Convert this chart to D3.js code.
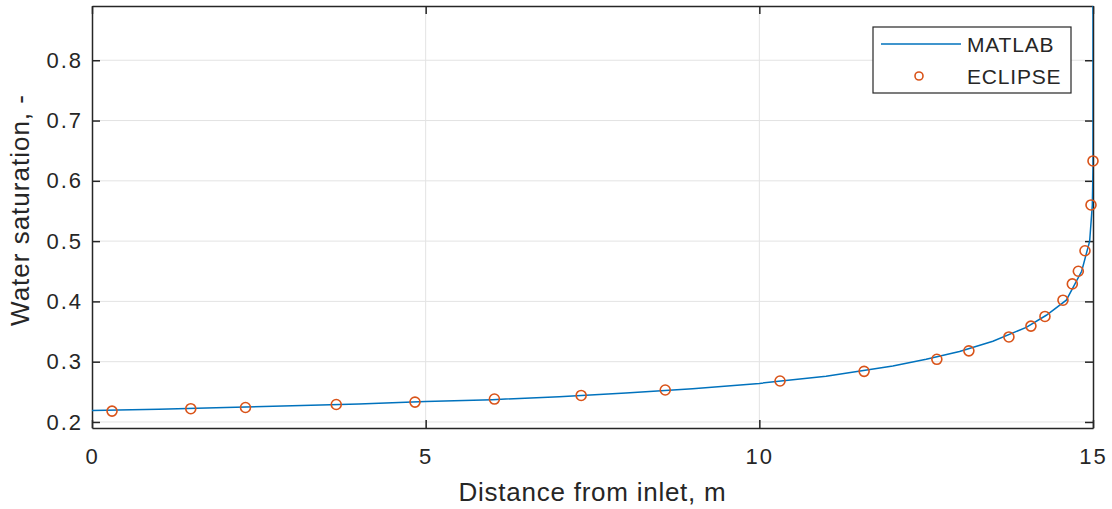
<!DOCTYPE html>
<html>
<head>
<meta charset="utf-8">
<script src="https://cdn.jsdelivr.net/npm/d3@7"></script>
<style>
body { margin: 0; background: #fff; }
text { font-family: "Liberation Sans", Arial, sans-serif; fill: #262626; }
</style>
</head>
<body>
<div id="chart"></div>
<script>
var width = 1112
var height = 509
var margin = {left: 92, right: 19, top: 6, bottom: 81}

// MATLAB solution (Buckley-Leverett profile)
var matlabX = [0, 1, 2, 3, 4, 5, 6, 7, 8, 9, 10, 11, 12, 12.5, 13, 13.5, 14, 14.3, 14.6, 14.83, 14.95, 14.99, 15, 15]
var matlabSw = [0.219, 0.221, 0.224, 0.227, 0.230, 0.234, 0.237, 0.242, 0.248, 0.255, 0.264, 0.276, 0.293, 0.304, 0.317, 0.334, 0.357, 0.377, 0.402, 0.45, 0.5, 0.56, 0.62, 0.95]

// ECLIPSE results
var eclipseX = [0.30, 1.48, 2.30, 3.66, 4.84, 6.03, 7.33, 8.59, 10.31, 11.57, 12.66, 13.14, 13.74, 14.07, 14.28, 14.55, 14.69, 14.78, 14.88, 14.97, 15.0]
var eclipseSw = [0.218, 0.222, 0.224, 0.229, 0.233, 0.238, 0.244, 0.253, 0.268, 0.284, 0.304, 0.318, 0.341, 0.359, 0.375, 0.402, 0.429, 0.450, 0.484, 0.560, 0.633]

var xTicks = [0, 5, 10, 15]
var yTicks = [0.2, 0.3, 0.4, 0.5, 0.6, 0.7, 0.8]
var seriesNames = ["MATLAB", "ECLIPSE"]

var svg = d3.select("#chart").append("svg")
    .attr("width", width)
    .attr("height", height)

var x = d3.scaleLinear().domain([0, 15]).range([margin.left, width - margin.right])
var y = d3.scaleLinear().domain([0.19, 0.89]).range([height - margin.bottom, margin.top])

var x0 = x.range()[0], x1 = x.range()[1]
var y0 = y.range()[0], y1 = y.range()[1]

// grid
svg.append("g").selectAll("line")
    .data(xTicks.slice(1, -1))
    .join("line")
    .attr("x1", d => x(d)).attr("x2", d => x(d))
    .attr("y1", y0).attr("y2", y1)
    .attr("stroke", "#e3e3e3").attr("stroke-width", 1)
svg.append("g").selectAll("line")
    .data(yTicks)
    .join("line")
    .attr("x1", x0).attr("x2", x1)
    .attr("y1", d => y(d)).attr("y2", d => y(d))
    .attr("stroke", "#e3e3e3").attr("stroke-width", 1)

svg.append("clipPath").attr("id", "clip")
    .append("rect")
    .attr("x", x0).attr("y", y1)
    .attr("width", x1 - x0).attr("height", y0 - y1)

// axes, ticks inward like matlab
var bottomAxis = d3.axisBottom(x).tickValues(xTicks).tickSizeInner(-8).tickSizeOuter(0).tickPadding(20).tickFormat(d3.format("d"))
var topAxis = d3.axisTop(x).tickValues(xTicks).tickSizeInner(-8).tickSizeOuter(0).tickFormat("")
var leftAxis = d3.axisLeft(y).tickValues(yTicks).tickSizeInner(-8).tickSizeOuter(0).tickPadding(9).tickFormat(d3.format(".1f"))
var rightAxis = d3.axisRight(y).tickValues(yTicks).tickSizeInner(-8).tickSizeOuter(0).tickFormat("")

function styleAxis(g) {
    g.select(".domain").attr("stroke", "#262626").attr("stroke-width", 1.5)
    g.selectAll(".tick line").attr("stroke", "#262626").attr("stroke-width", 1.5)
    g.selectAll(".tick text").style("font-size", "22px").attr("fill", "#262626")
        .style("letter-spacing", "2px")
        .style("font-family", "Liberation Sans, Arial, sans-serif")
}

svg.append("g").attr("transform", "translate(0," + y0 + ")").call(bottomAxis).call(styleAxis)
svg.append("g").attr("transform", "translate(0," + y1 + ")").call(topAxis).call(styleAxis)
svg.append("g").attr("transform", "translate(" + x0 + ",0)").call(leftAxis).call(styleAxis)
svg.append("g").attr("transform", "translate(" + x1 + ",0)").call(rightAxis).call(styleAxis)

// MATLAB line
var line = d3.line()
    .x(d => x(d[0]))
    .y(d => y(d[1]))
svg.append("path")
    .datum(d3.zip(matlabX, matlabSw))
    .attr("clip-path", "url(#clip)")
    .attr("d", line)
    .attr("fill", "none")
    .attr("stroke", "#0072BD")
    .attr("stroke-width", 1.5)

// ECLIPSE markers
svg.append("g").selectAll("circle")
    .data(d3.zip(eclipseX, eclipseSw))
    .join("circle")
    .attr("cx", d => x(d[0]))
    .attr("cy", d => y(d[1]))
    .attr("r", 5)
    .attr("fill", "none")
    .attr("stroke", "#D95319")
    .attr("stroke-width", 1.6)

// axis labels
svg.append("text")
    .attr("x", (x0 + x1) / 2)
    .attr("y", 501)
    .attr("text-anchor", "middle")
    .style("font-size", "26px")
    .style("letter-spacing", "0.75px")
    .text("Distance from inlet, m")

svg.append("text")
    .attr("transform", "translate(29,210) rotate(-90)")
    .attr("text-anchor", "middle")
    .style("font-size", "26px")
    .style("letter-spacing", "1px")
    .text("Water saturation, -")

// legend
var lg = svg.append("g").attr("transform", "translate(873,27)")
lg.append("rect")
    .attr("width", 198).attr("height", 66)
    .attr("fill", "#fff")
    .attr("stroke", "#262626").attr("stroke-width", 1.2)
lg.append("line")
    .attr("x1", 8).attr("x2", 88)
    .attr("y1", 17).attr("y2", 17)
    .attr("stroke", "#0072BD").attr("stroke-width", 1.5)
lg.append("circle")
    .attr("cx", 46).attr("cy", 49).attr("r", 4)
    .attr("fill", "none")
    .attr("stroke", "#D95319").attr("stroke-width", 1.6)
lg.selectAll("text.lab")
    .data(seriesNames)
    .join("text")
    .attr("class", "lab")
    .attr("x", 94)
    .attr("y", (d, i) => 25 + i * 32)
    .style("font-size", "21px")
    .style("letter-spacing", "0.8px")
    .text(d => d)
</script>
</body>
</html>
